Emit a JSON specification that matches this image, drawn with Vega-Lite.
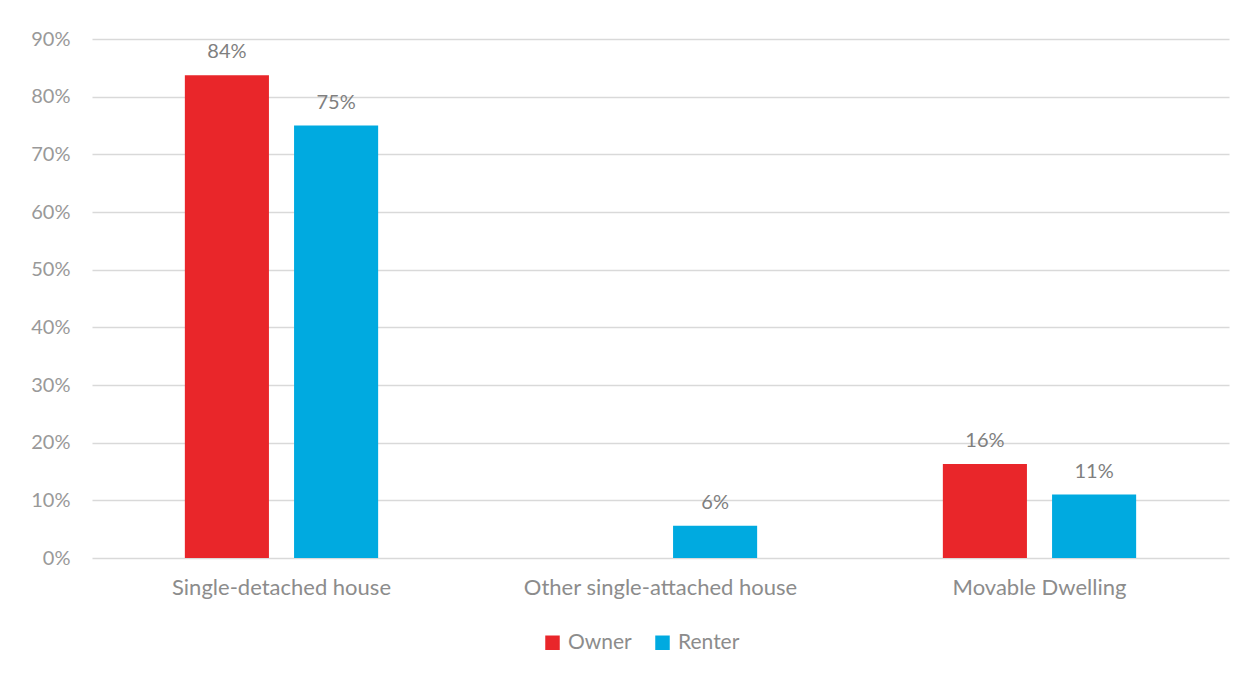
{
  "$schema": "https://vega.github.io/schema/vega-lite/v6.json",
  "autosize": {"type": "none"},
  "padding": {"left": 92, "top": 39, "right": 19, "bottom": 119},
  "width": 1137,
  "height": 519,
  "background": "white",
  "config": {
    "font": "Lato",
    "view": {"stroke": null},
    "axis": {"labelFont": "Lato", "labelColor": "#8C8C8C", "labelFontSize": 22, "labelLimit": 400}
  },
  "data": {
    "values": [
      {"type": "Single-detached house", "tenure": "Owner", "share": 0.837},
      {"type": "Single-detached house", "tenure": "Renter", "share": 0.750},
      {"type": "Other single-attached house", "tenure": "Owner", "share": null},
      {"type": "Other single-attached house", "tenure": "Renter", "share": 0.056},
      {"type": "Movable Dwelling", "tenure": "Owner", "share": 0.163},
      {"type": "Movable Dwelling", "tenure": "Renter", "share": 0.110}
    ]
  },
  "encoding": {
    "x": {
      "field": "type", "type": "nominal", "sort": null,
      "scale": {"paddingInner": 0.49, "paddingOuter": 0.245},
      "axis": {"title": null, "labelAngle": 0, "domain": false, "ticks": false, "labelPadding": 19}
    },
    "xOffset": {
      "field": "tenure", "type": "nominal",
      "scale": {"paddingInner": 0.23, "paddingOuter": 0}
    },
    "y": {
      "field": "share", "type": "quantitative",
      "scale": {"domain": [0, 0.9]},
      "axis": {"title": null, "format": ".0%", "values": [0, 0.1, 0.2, 0.3, 0.4, 0.5, 0.6, 0.7, 0.8, 0.9], "domain": false, "ticks": false, "labelPadding": 22, "labelFontSize": 20, "labelColor": "#999999", "gridColor": "#D9D9D9", "gridWidth": 1.5}
    }
  },
  "layer": [
    {
      "mark": {"type": "bar"},
      "encoding": {
        "color": {
          "field": "tenure", "type": "nominal",
          "scale": {"domain": ["Owner", "Renter"], "range": ["#E9262A", "#00AAE0"]},
          "legend": {"title": null, "orient": "none", "legendX": 450, "legendY": 593, "direction": "horizontal", "symbolType": "square", "symbolSize": 210, "symbolStrokeWidth": 0, "symbolOpacity": 1, "labelFont": "Lato", "labelFontSize": 21, "labelColor": "#8C8C8C", "labelOffset": 5, "columnPadding": 20}
        }
      }
    },
    {
      "mark": {"type": "text", "baseline": "bottom", "dy": -13, "font": "Lato", "fontSize": 20, "color": "#7F7F7F"},
      "encoding": {
        "text": {"field": "share", "type": "quantitative", "format": ".0%"}
      }
    }
  ]
}
